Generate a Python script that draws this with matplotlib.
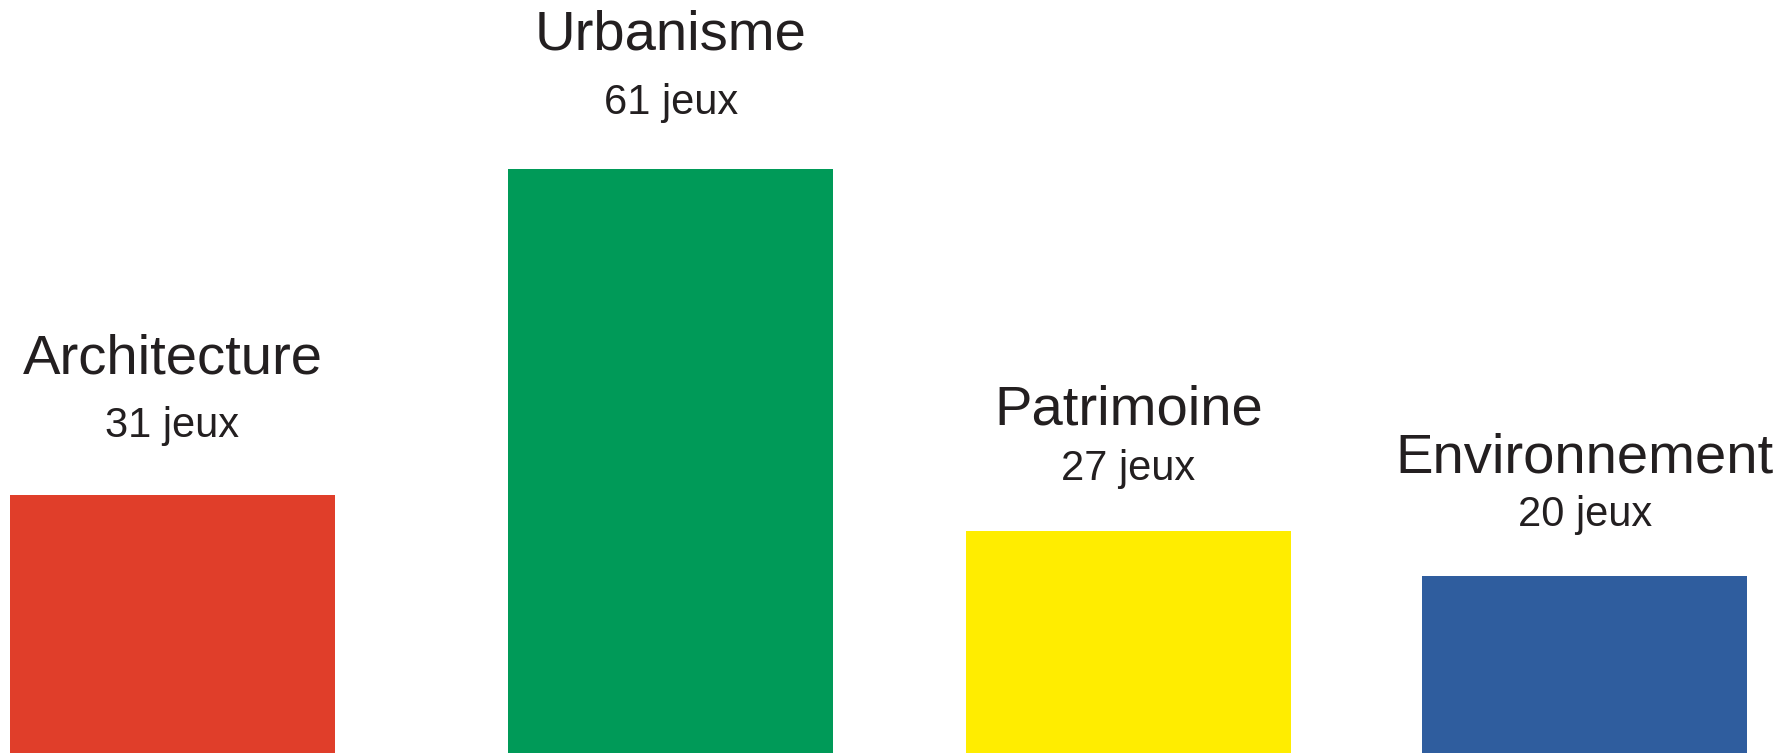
import matplotlib.pyplot as plt

plt.rcParams['font.family'] = ['Liberation Sans', 'DejaVu Sans']

# --- data ---
categories = ["Architecture", "Urbanisme", "Patrimoine", "Environnement"]
games = [31, 61, 27, 20]
# drawn bar heights (the bars in the original are not to scale with the counts)
bar_heights = [26.9, 61.0, 23.2, 18.5]
colors = ["#E03E2A", "#009A58", "#FFED00", "#2F5D9E"]

# layout: bar centres (in bar-spacing units) and label gaps above bar top (pixels)
x_pos = [0.0, 1.090, 2.092, 3.090]
bar_width = 0.711
num_gap = [58, 55, 51, 50]
title_gap = [122, 119, 106, 103]
text_color = "#231F20"

fig = plt.figure(figsize=(17.92, 7.53), dpi=100)
ax = fig.add_axes([0, 0, 1, 1])

ax.bar(x_pos, bar_heights, width=bar_width, color=colors, linewidth=0)

for x, h, cat, n, g1, g2 in zip(x_pos, bar_heights, categories, games, num_gap, title_gap):
    ax.annotate(f"{n} jeux", xy=(x, h), xytext=(0, g1), textcoords="offset pixels",
                ha="center", va="baseline", fontsize=30, color=text_color)
    ax.annotate(cat, xy=(x, h), xytext=(0, g2), textcoords="offset pixels",
                ha="center", va="baseline", fontsize=40.5, color=text_color)

ax.set_xlim(-0.3775, 3.5437)
ax.set_ylim(0, 61.0 * 753 / 584)
ax.axis("off")

fig.savefig("out.png", dpi=100, facecolor="white")
